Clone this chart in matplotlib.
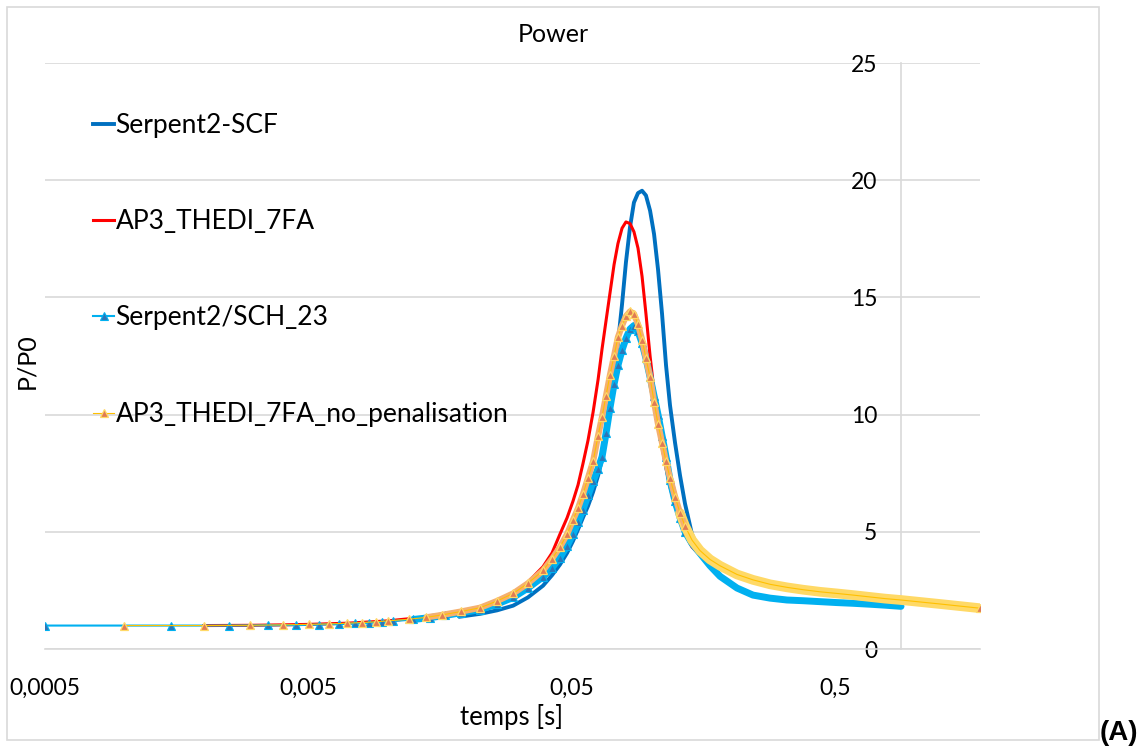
import numpy as np
import matplotlib
matplotlib.use("Agg")
import matplotlib.pyplot as plt
from matplotlib.patches import Rectangle

plt.rcParams['font.family'] = ['Lato', 'DejaVu Sans']

# --- data (time in s, P/P0) ---
# common time points used across the peak and the tail
t_peak = [0.0224, 0.0260, 0.0299, 0.0340, 0.0388, 0.0420, 0.0450, 0.0479, 0.0504, 0.0527,
          0.0550, 0.0575, 0.0601, 0.0628, 0.0650, 0.0673, 0.0697, 0.0722, 0.0747, 0.0774,
          0.0801, 0.0830, 0.0859, 0.0890, 0.0922, 0.0954, 0.0989, 0.1024, 0.1060, 0.1098,
          0.1137, 0.1177, 0.1230, 0.1285, 0.1342, 0.1426, 0.1530, 0.1670, 0.1823, 0.2114,
          0.2430, 0.2821, 0.3272, 0.3763, 0.4366, 0.5066, 0.5826, 0.6760, 0.7705, 0.8862,
          1.246, 1.767]

# Serpent2-SCF (starts late, stops at ~0.89 s)
t_scf = [0.0188, 0.0205] + t_peak[:50]
p_scf = [1.38, 1.44,
         1.5, 1.65, 1.85, 2.2, 2.7, 3.15, 3.6, 4.1, 4.6, 5.1,
         5.6, 6.1, 6.7, 7.4, 8.1, 9.0, 10.2, 11.7, 13.05, 14.7,
         16.5, 18.0, 19.05, 19.45, 19.55, 19.35, 18.7, 17.7, 16.2, 14.3,
         12.1, 10.4, 8.8, 7.4, 6.2, 4.9, 4.1, 3.6, 3.1, 2.6,
         2.3, 2.15, 2.06, 2.03, 1.99, 1.96, 1.93, 1.89, 1.85, 1.80]

# AP3_THEDI_7FA
t_ap3 = [0.002, 0.003, 0.004, 0.005, 0.007, 0.010, 0.013, 0.016, 0.019] + t_peak
p_ap3 = [1.0, 1.01, 1.03, 1.05, 1.1, 1.2, 1.33, 1.47, 1.62,
         1.80, 2.05, 2.38, 2.85, 3.51, 4.1, 4.9, 5.6, 6.3, 7.0,
         7.9, 8.9, 10.1, 11.5, 12.8, 14.0, 15.2, 16.4, 17.3, 17.95,
         18.22, 18.15, 17.8, 17.1, 15.9, 14.3, 12.5, 11.0, 9.7, 8.6,
         7.7, 6.9, 6.1, 5.4, 4.9, 4.35, 4.0, 3.7, 3.45, 3.1,
         2.87, 2.7, 2.58, 2.49, 2.41, 2.34, 2.27, 2.2, 2.13, 2.05,
         1.89, 1.71]

# Serpent2/SCH_23 (stops at ~0.89 s)
t_sch = [0.0005, 0.0015, 0.0025, 0.0035, 0.0045, 0.0055, 0.0065, 0.0075, 0.0085, 0.0095,
         0.0105, 0.0125, 0.0145, 0.0165, 0.019] + t_peak[:50]
p_sch = [1.0, 1.0, 1.0, 1.01, 1.02, 1.04, 1.06, 1.09, 1.12, 1.15,
         1.19, 1.26, 1.34, 1.43, 1.55,
         1.68, 1.92, 2.2, 2.6, 3.08, 3.47, 3.9, 4.4, 4.9, 5.4,
         5.95, 6.55, 7.15, 7.7, 8.2, 9.2, 10.3, 11.3, 12.1, 12.75,
         13.25, 13.65, 13.8, 13.55, 13.05, 12.4, 11.6, 10.8, 10.0, 9.1,
         8.2, 7.2, 6.3, 5.6, 5.0, 4.5, 4.08, 3.55, 3.1, 2.6,
         2.3, 2.17, 2.09, 2.06, 2.02, 1.98, 1.95, 1.91, 1.87, 1.82]

# AP3_THEDI_7FA_no_penalisation
t_nopen = [0.001, 0.002, 0.003, 0.004, 0.005, 0.006, 0.007, 0.008, 0.009, 0.010,
           0.012, 0.014, 0.016, 0.019] + t_peak
p_nopen = [1.0, 1.0, 1.01, 1.03, 1.05, 1.07, 1.1, 1.13, 1.16, 1.2,
           1.27, 1.35, 1.45, 1.6,
           1.76, 2.05, 2.37, 2.8, 3.35, 3.85, 4.35, 4.9, 5.5, 6.0,
           6.6, 7.3, 8.0, 9.1, 9.9, 10.8, 11.7, 12.5, 13.3, 13.8,
           14.2, 14.4, 14.3, 13.85, 13.2, 12.4, 11.6, 10.55, 9.6, 8.8,
           8.0, 7.3, 6.5, 5.8, 5.25, 4.65, 4.2, 3.82, 3.55, 3.18,
           2.95, 2.76, 2.63, 2.53, 2.44, 2.37, 2.3, 2.22, 2.15, 2.09,
           1.92, 1.74]

x_ticks = [0.0005, 0.005, 0.05, 0.5]
x_labels = ['0,0005', '0,005', '0,05', '0,5']
y_ticks = [0, 5, 10, 15, 20, 25]

W, H = 1148, 747
fig = plt.figure(figsize=(W / 100, H / 100), dpi=100)
ax = fig.add_axes([45 / W, 1 - 649 / H, 935 / W, 586 / H])

grid_c = '#D9D9D9'
txt_c = '#000000'

ax.plot(t_scf, p_scf, color='#0070C0', lw=2.8, label='Serpent2-SCF', zorder=3)
ax.plot(t_ap3, p_ap3, color='#FF0000', lw=2.2, label='AP3_THEDI_7FA', zorder=4)

# dense markers in the original merge into a band: draw it as a wide line underneath
t_a, p_a = np.array(t_sch), np.array(p_sch)
ax.plot(t_a[t_a > 0.012], p_a[t_a > 0.012], color='#00B0F0', lw=5,
        solid_capstyle='round', zorder=5)
mk = [i for i, t in enumerate(t_sch) if t < 0.14]
ax.plot(t_sch, p_sch, color='#00B0F0', lw=1.5, marker='^', ms=5.5, mfc='#2E75B6',
        mec='#00B0F0', mew=0.8, markevery=mk, label='Serpent2/SCH_23', zorder=5)

t_a, p_a = np.array(t_nopen), np.array(p_nopen)
peak = (t_a > 0.012) & (t_a < 0.14)
tail = t_a > 0.125
ax.plot(t_a[tail], p_a[tail], color='#FFD966', lw=7, solid_capstyle='round', zorder=6)
ax.plot(t_a[peak], p_a[peak], color='#F5B070', lw=4.5, solid_capstyle='round', zorder=6)
mk = [i for i, t in enumerate(t_nopen) if t < 0.14] + [len(t_nopen) - 1]
ax.plot(t_nopen, p_nopen, color='#FFC000', lw=0.8, marker='^', ms=5.5, mfc='#E07B54',
        mec='#FFD966', mew=0.9, markevery=mk, label='AP3_THEDI_7FA_no_penalisation', zorder=6)

ax.set_xscale('log')
ax.set_xlim(0.0005, 1.767)
ax.set_ylim(0, 25)
ax.set_xticks(x_ticks)
ax.set_xticklabels(x_labels)
ax.xaxis.set_minor_locator(matplotlib.ticker.NullLocator())
ax.set_yticks(y_ticks)
ax.yaxis.grid(True, color=grid_c, lw=1.2)
ax.set_axisbelow(True)

for s in ['top', 'right']:
    ax.spines[s].set_visible(False)
ax.spines['bottom'].set_color(grid_c)
ax.spines['bottom'].set_linewidth(1.2)
ax.spines['left'].set_position(('data', 0.8862))
ax.spines['left'].set_color(grid_c)
ax.spines['left'].set_linewidth(1.2)
ax.tick_params(axis='y', length=0, pad=17, labelsize=16.5, labelcolor=txt_c)
ax.tick_params(axis='x', length=0, pad=21, labelsize=16.5, labelcolor=txt_c)

ax.legend(loc='upper left', bbox_to_anchor=(93 / W, 1 - 113 / H),
          bbox_transform=fig.transFigure, frameon=False, fontsize=19,
          handlelength=0.8, handletextpad=0.05, labelspacing=2.7,
          borderpad=0, borderaxespad=0)

fig.text(553 / W, 1 - 35 / H, 'Power', ha='center', va='center', fontsize=18, color=txt_c)
fig.text(512 / W, 1 - 717 / H, 'temps [s]', ha='center', va='center', fontsize=18.5, color=txt_c)
fig.text(27 / W, 1 - 361 / H, 'P/P0', ha='center', va='center', rotation=90, fontsize=18, color=txt_c)
fig.text(1100 / W, 1 / H, '(A)', ha='left', va='bottom', fontsize=20, fontweight='bold',
         family=['Liberation Sans', 'DejaVu Sans'])

fig.patches.append(Rectangle((7 / W, 1 - 740 / H), 1092 / W, 733 / H, transform=fig.transFigure,
                             fill=False, ec=grid_c, lw=1.2))

fig.savefig('out.png', dpi=100)
